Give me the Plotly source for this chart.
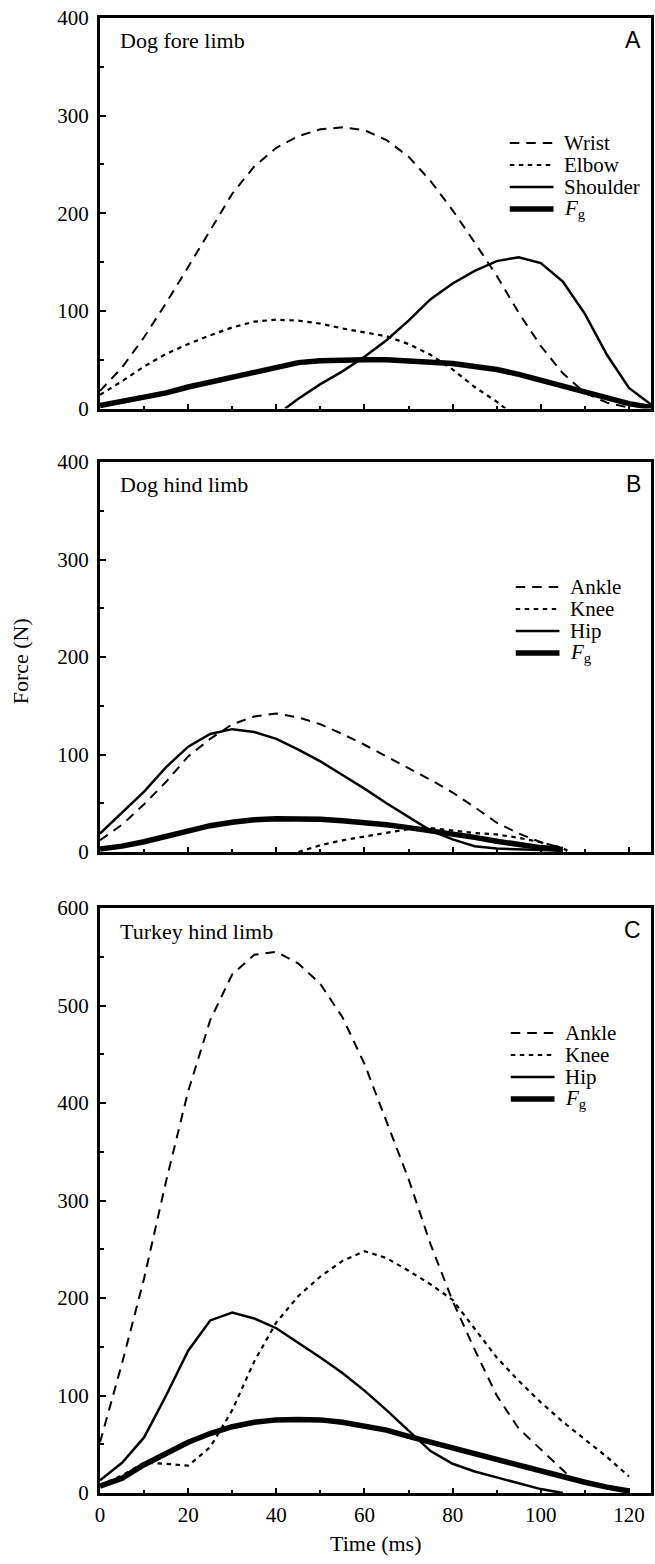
import plotly.graph_objects as go

# ---------------- data ----------------
# Panel A: dog fore limb
a_wrist_t = list(range(0, 121, 5))
a_wrist = [18, 42, 73, 108, 145, 183, 220, 248, 267, 279, 286, 288, 285, 275, 258,
           233, 203, 170, 136, 98, 64, 36, 16, 6, 1]
a_elbow_t = list(range(0, 91, 5)) + [92]
a_elbow = [14, 28, 43, 56, 66, 75, 83, 89, 91, 90, 87, 82, 78, 74, 66, 55, 40, 22, 7, 0]
a_shoulder_t = [42, 45, 50, 55, 60, 65, 70, 75, 80, 85, 90, 95, 100, 105, 110, 115, 120, 125]
a_shoulder = [0, 10, 25, 38, 53, 70, 90, 112, 128, 141, 151, 155, 149, 130, 97, 55, 21, 4]
a_fg_t = list(range(0, 126, 5))
a_fg = [3, 7, 11, 16, 22, 27, 33, 38, 43, 47, 49, 50, 50, 50, 49, 48, 46, 43, 40, 35,
        29, 23, 17, 10, 5, 1]

# Panel B: dog hind limb
b_ankle_t = list(range(0, 106, 5)) + [106]
b_ankle = [12, 28, 49, 72, 98, 116, 131, 139, 142, 138, 131, 121, 110, 98, 86, 74, 61,
           46, 30, 19, 10, 4, 2]
b_knee_t = list(range(45, 106, 5)) + [106]
b_knee = [0, 7, 12, 16, 20, 23.5, 24.5, 22, 19.5, 18, 14.5, 10, 4, 1]
b_hip_t = list(range(0, 106, 5))
b_hip = [19, 40, 62, 87, 108, 121, 126, 123, 116, 105, 93, 79, 65, 50, 36, 22, 13, 6,
         3.5, 2.5, 2, 1.5]
b_fg_t = list(range(0, 106, 5))
b_fg = [3, 6, 10.5, 16, 22, 27, 30.5, 33, 34, 34, 33.5, 32, 30.5, 28, 25, 22, 19, 15,
        11, 7.5, 4.5, 2.5]

# Panel C: turkey hind limb
c_ankle_t = list(range(0, 106, 5)) + [107]
c_ankle = [52, 133, 220, 320, 412, 485, 532, 552, 555, 543, 522, 488, 440, 382, 322,
           255, 197, 147, 100, 66, 45, 23, 15]
c_knee_t = list(range(0, 121, 5))
c_knee = [8, 18, 31, 30, 28, 47, 85, 135, 175, 202, 222, 238, 248, 241, 228, 214, 198,
          169, 139, 115, 93, 73, 55, 37, 17]
c_hip_t = list(range(0, 106, 5))
c_hip = [13, 31, 57, 100, 146, 177, 185, 179, 169, 154, 139, 123, 105, 85, 64, 43, 30,
         22, 16, 10, 4, 0]
c_fg_t = list(range(0, 121, 5))
c_fg = [7, 15, 29, 41, 52, 61, 68, 72.5, 75, 75.5, 75, 72.5, 69, 64.5, 58, 52, 46, 40,
        34, 28, 22, 16.5, 11, 6, 2]

panel_titles = ["Dog fore limb", "Dog hind limb", "Turkey hind limb"]
panel_letters = ["A", "B", "C"]
legend_names = [["Wrist", "Elbow", "Shoulder", "<i>F</i><sub>g</sub>"],
                ["Ankle", "Knee", "Hip", "<i>F</i><sub>g</sub>"],
                ["Ankle", "Knee", "Hip", "<i>F</i><sub>g</sub>"]]
y_max = [400, 400, 600]
x_ticks = [0, 20, 40, 60, 80, 100, 120]

series = [
    [(a_wrist_t, a_wrist), (a_elbow_t, a_elbow), (a_shoulder_t, a_shoulder), (a_fg_t, a_fg)],
    [(b_ankle_t, b_ankle), (b_knee_t, b_knee), (b_hip_t, b_hip), (b_fg_t, b_fg)],
    [(c_ankle_t, c_ankle), (c_knee_t, c_knee), (c_hip_t, c_hip), (c_fg_t, c_fg)],
]

# ---------------- styles / layout ----------------
W, H = 655, 1564
ML, MR, MT, MB = 100, 1, 18, 71
PH = H - MT - MB
PW = W - ML - MR
panel_px = [(18, 408.5), (462, 852), (908, 1493)]
styles = [
    dict(dash="9.5px,7px", width=2.0),
    dict(dash="4.5px,4.5px", width=2.2),
    dict(dash="solid", width=2.5),
    dict(dash="solid", width=5.5),
]
SERIF = "Liberation Serif"
SANS = "Liberation Sans"
legend_x0_px = [512, 518, 513]
legend_rows_px = [125, 147, 169, 191]

fig = go.Figure()
annotations = []
shapes = []
for i in range(3):
    s = "" if i == 0 else str(i + 1)
    for (t, v), st in zip(series[i], styles):
        fig.add_trace(go.Scatter(x=t, y=v, mode="lines", xaxis="x" + s, yaxis="y" + s,
                                 line=dict(color="black", width=st["width"], dash=st["dash"]),
                                 showlegend=False, hoverinfo="skip"))
    top, bot = panel_px[i]
    hpx = bot - top
    d0 = 1 - (bot - MT) / PH
    d1 = 1 - (top - MT) / PH
    axis_common = dict(showline=True, linecolor="black", linewidth=3, mirror=True,
                       showgrid=False, zeroline=False, ticks="inside", tickcolor="black",
                       tickwidth=1.8, tickfont=dict(family=SERIF, size=21, color="black"))
    fig.update_layout(**{
        "xaxis" + s: dict(axis_common, domain=[0, 1], range=[0, 125], anchor="y" + s,
                          tickvals=x_ticks, ticklen=5, showticklabels=(i == 2),
                          ticklabelstandoff=1,
                          minor=dict(dtick=10, tick0=0, ticks="inside", ticklen=3,
                                     tickcolor="black", tickwidth=1.8)),
        "yaxis" + s: dict(axis_common, domain=[d0, d1], range=[0, y_max[i]], anchor="x" + s,
                          dtick=100, ticklen=6, ticklabelstandoff=4,
                          minor=dict(dtick=50, ticks="inside", ticklen=3.5,
                                     tickcolor="black", tickwidth=1.8)),
    })
    xr, yr = "x" + s + " domain", "y" + s + " domain"
    annotations.append(dict(text=panel_titles[i], xref=xr, yref=yr, x=18 / PW,
                            y=1 - 23 / hpx, xanchor="left", yanchor="middle", showarrow=False,
                            font=dict(family=SERIF, size=22, color="black")))
    annotations.append(dict(text=panel_letters[i], xref=xr, yref=yr, x=(646 - ML) / PW,
                            y=1 - 22 / hpx, xanchor="right", yanchor="middle", showarrow=False,
                            font=dict(family=SANS, size=23, color="black")))
    lx0 = (legend_x0_px[i] - ML) / PW
    lx1 = (legend_x0_px[i] + 44 - ML) / PW
    ltx = (legend_x0_px[i] + 53 - ML) / PW
    for name, st, off in zip(legend_names[i], styles, legend_rows_px):
        yy = 1 - off / hpx
        shapes.append(dict(type="line", xref=xr, yref=yr, x0=lx0, x1=lx1, y0=yy, y1=yy,
                           line=dict(color="black", width=st["width"], dash=st["dash"])))
        annotations.append(dict(text=name, xref=xr, yref=yr, x=ltx, y=yy, xanchor="left",
                                yanchor="middle", showarrow=False,
                                font=dict(family=SERIF, size=21, color="black")))

annotations.append(dict(text="Force (N)", xref="paper", yref="y2 domain",
                        x=(20 - ML) / PW, y=0.49, textangle=-90, xanchor="center",
                        yanchor="middle", showarrow=False,
                        font=dict(family=SERIF, size=22, color="black")))
annotations.append(dict(text="Time (ms)", xref="x3 domain", yref="paper", x=0.5,
                        y=-(1544 - 1493) / PH, xanchor="center", yanchor="middle",
                        showarrow=False, font=dict(family=SERIF, size=22, color="black")))

fig.update_layout(width=W, height=H, margin=dict(l=ML, r=MR, t=MT, b=MB),
                  paper_bgcolor="white", plot_bgcolor="white",
                  annotations=annotations, shapes=shapes, showlegend=False)
fig.write_html("out.html", config={"displayModeBar": False},
               post_script="document.body.style.margin='0';"
                           "document.body.style.overflow='hidden';"
                           "document.documentElement.style.overflow='hidden';")
